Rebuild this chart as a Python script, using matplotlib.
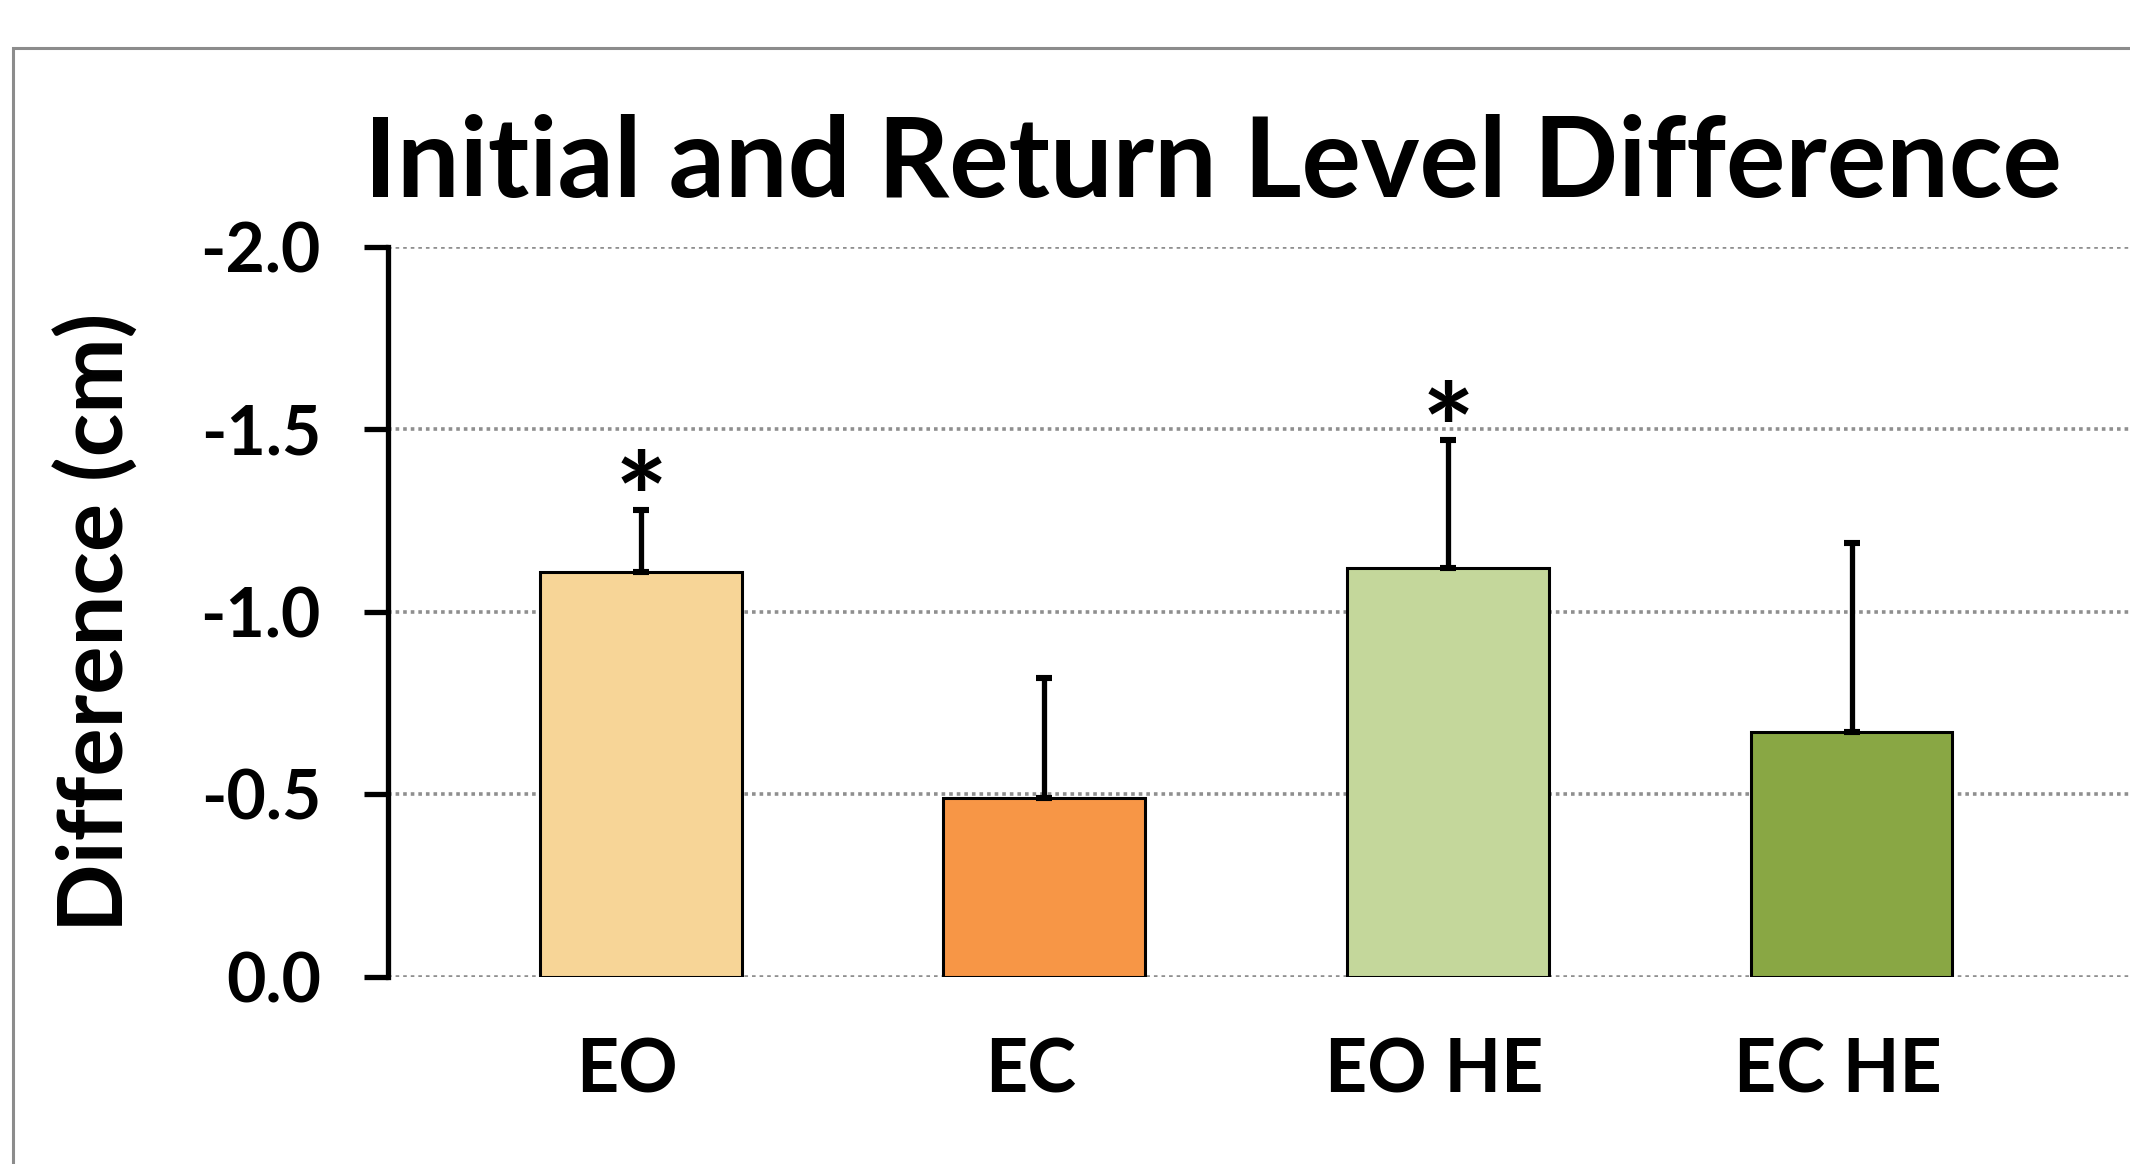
import matplotlib.pyplot as plt
from matplotlib.patches import Rectangle

plt.rcParams['font.family'] = ['Lato', 'DejaVu Sans']
plt.rcParams['font.weight'] = 'bold'

conditions = ['EO', 'EC', 'EO HE', 'EC HE']
mean_diff = [-1.11, -0.49, -1.12, -0.67]
sd_diff = [0.17, 0.33, 0.35, 0.52]
significant = [True, False, True, False]
bar_colors = ['#F7D597', '#F79646', '#C4D79B', '#89A744']
yticks = [0.0, -0.5, -1.0, -1.5, -2.0]

fig = plt.figure(figsize=(21.3, 11.64), dpi=100)
ax = fig.add_axes([0.182, 0.1607, 0.818, 0.6271])

x = list(range(len(conditions)))
ax.bar(x, mean_diff, width=0.5, color=bar_colors, edgecolor='black',
       linewidth=2.2, zorder=3)
# only the upper half of each error bar (towards the larger difference)
ax.errorbar(x, mean_diff, yerr=[sd_diff, [0] * len(sd_diff)], fmt='none',
            ecolor='black', elinewidth=3.8, capsize=5.5, capthick=4.4, zorder=4)

for i, (m, s, sig) in enumerate(zip(mean_diff, sd_diff, significant)):
    if sig:
        ax.annotate('*', (i, m - s), xytext=(0, -24), textcoords='offset points',
                    ha='center', va='baseline', fontsize=90, fontweight='bold')

ax.set_xlim(-0.627, 3.69)
ax.set_ylim(0, -2.0)
ax.set_yticks(yticks)
ax.set_yticklabels([f'{t:.1f}' for t in yticks])
# category labels sit slightly left of the bar centres
ax.set_xticks([i - 0.035 for i in x])
ax.set_xticklabels(conditions)

ax.grid(axis='y', color='#8f8f8f', linestyle=(0, (1, 1.1)), linewidth=2.6)
ax.set_axisbelow(True)
for side in ['top', 'right', 'bottom']:
    ax.spines[side].set_visible(False)
ax.spines['left'].set_linewidth(3.8)
ax.tick_params(axis='y', length=17, width=3.8, pad=31, labelsize=49)
ax.tick_params(axis='x', length=0, pad=43, labelsize=53)

fig.text(0.5695, 0.831, 'Initial and Return Level Difference', ha='center',
         va='baseline', fontsize=80, fontweight='bold')
fig.text(0.045, 0.4656, 'Difference (cm)', rotation=90, ha='center',
         va='center', fontsize=65, fontweight='bold')

fig.patches.append(Rectangle((0.006, -0.1), 1.2, 1.1 - 0.0412, transform=fig.transFigure,
                             fill=False, edgecolor='#8c8c8c', linewidth=2.2))

fig.savefig('out.png', dpi=100)
